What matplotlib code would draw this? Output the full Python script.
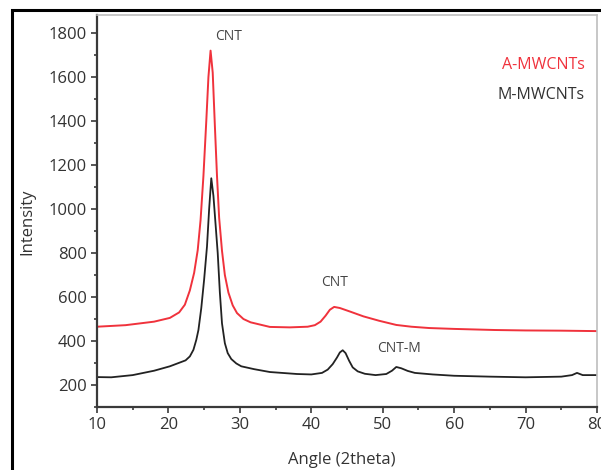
import matplotlib

matplotlib.use("Agg")
import matplotlib.pyplot as plt
from matplotlib.patches import Rectangle
from matplotlib.ticker import MultipleLocator

plt.rcParams["font.family"] = ["Open Sans", "DejaVu Sans"]

# A-MWCNTs (red) trace
angle_a = [10, 14, 18, 20.2, 21.5, 22.3, 23.0, 23.6, 24.1, 24.5, 24.9, 25.3, 25.6,
           25.9, 26.2, 26.5, 26.8, 27.1, 27.5, 27.9, 28.4, 29.0, 29.6, 30.5, 31.5,
           34.2, 37, 39.5, 40.5, 41.3, 42.0, 42.6, 43.2, 44.0, 45.5, 47.3, 49.5,
           51.9, 54, 56.5, 60, 65.7, 70, 75, 80]
inten_a = [465, 472, 488, 505, 530, 565, 630, 710, 813, 950, 1150, 1400, 1600,
           1720, 1620, 1380, 1150, 960, 810, 700, 620, 562, 527, 500, 485,
           464, 462, 465, 472, 488, 515, 542, 555, 550, 533, 512, 492,
           473, 465, 459, 455, 450, 448, 447, 445]

# M-MWCNTs (black) trace
angle_m = [10, 12, 15, 18, 20.2, 22.4, 23.0, 23.5, 23.9, 24.2, 24.6, 25.0, 25.4,
           25.7, 26.0, 26.3, 26.6, 26.9, 27.2, 27.5, 27.9, 28.3, 28.8, 29.5, 30.2,
           32, 34.2, 38, 40, 41.5, 42.3, 43.0, 43.6, 44.0, 44.4, 44.8, 45.3, 45.8,
           46.5, 47.5, 49, 50.5, 51.3, 51.9, 52.6, 53.5, 54.5, 57, 60, 65, 70,
           75, 76.5, 77.2, 78, 80]
inten_m = [236, 235, 245, 265, 285, 312, 330, 360, 405, 450, 550, 680, 830,
           1000, 1140, 1060, 930, 800, 620, 480, 390, 345, 318, 298, 285,
           272, 259, 250, 248, 255, 270, 295, 325, 348, 358, 345, 310, 280,
           262, 251, 245, 250, 265, 282, 276, 264, 255, 248, 242, 238, 235,
           238, 245, 255, 245, 245]

RED = "#f0323c"
INK = "#222222"
SPINE = "#3a3a3a"
TXT = "#333333"

fig = plt.figure(figsize=(6.01, 4.70), dpi=100)
ax = fig.add_axes([97 / 601, 1 - 407 / 470, 500 / 601, 392 / 470])

ax.plot(angle_a, inten_a, color=RED, lw=1.4)
ax.plot(angle_m, inten_m, color=INK, lw=1.3)

ax.set_xlim(10, 80)
ax.set_ylim(100, 1882)
ax.xaxis.set_major_locator(MultipleLocator(10))
ax.xaxis.set_minor_locator(MultipleLocator(5))
ax.yaxis.set_minor_locator(MultipleLocator(100))
ax.set_yticks(range(200, 1801, 200))
ax.tick_params(which="both", direction="out", colors=SPINE, labelsize=12,
               labelcolor=TXT, width=1.2)
ax.tick_params(which="major", length=4)
ax.tick_params(which="minor", length=2.5)
for s in ("left", "bottom"):
    ax.spines[s].set_color(SPINE)
    ax.spines[s].set_linewidth(1.6)
for s in ("top", "right"):
    ax.spines[s].set_color("#bdbdbd")
    ax.spines[s].set_linewidth(1.2)

ax.set_xlabel("Angle (2theta)", fontsize=12, color=TXT)
ax.xaxis.set_label_coords((342 - 97) / 500, (407 - 452) / 392)
ax.set_ylabel("Intensity", fontsize=12, color=TXT)
ax.yaxis.set_label_coords((35 - 97) / 500, (407 - 222) / 392)

ax.text(28.4, 1782, "CNT", ha="center", va="center", fontsize=10, color="#444444")
ax.text(43.2, 668, "CNT", ha="center", va="center", fontsize=10, color="#444444")
ax.text(52.3, 368, "CNT-M", ha="center", va="center", fontsize=10, color="#444444")
ax.text(0.975, (407 - 65) / 392, "A-MWCNTs", transform=ax.transAxes, ha="right",
        va="center", fontsize=11.5, color=RED)
ax.text(0.975, (407 - 95) / 392, "M-MWCNTs", transform=ax.transAxes, ha="right",
        va="center", fontsize=11.5, color=TXT)

# outer black frame of the figure panel
fig.patches.append(Rectangle((12 / 601, -0.02), 1.1, 1 - 10 / 470 + 0.02,
                             transform=fig.transFigure, fill=False,
                             edgecolor="black", lw=2.2, clip_on=False))

fig.savefig("out.png", dpi=100)
